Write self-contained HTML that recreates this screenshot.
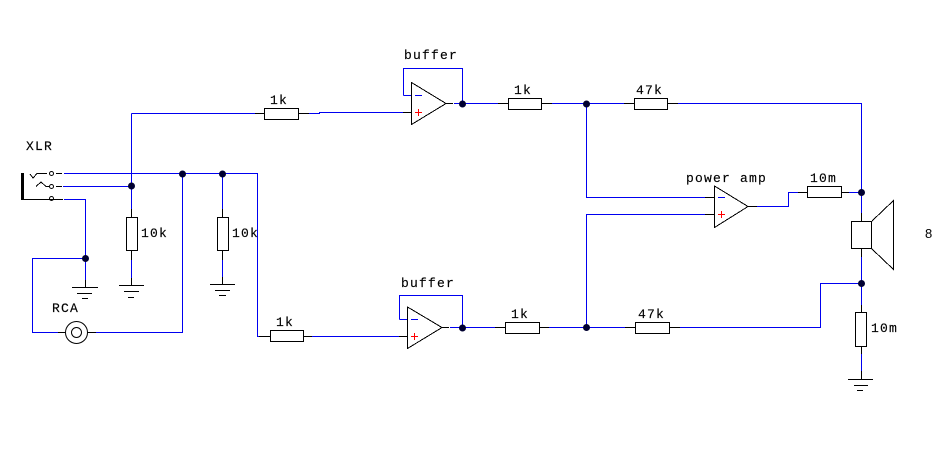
<!DOCTYPE html>
<html><head><meta charset="utf-8"><style>
html,body{margin:0;padding:0;background:#fff}
svg{display:block}
text{font-family:"Liberation Mono",monospace;font-size:13px;fill:#000;stroke:#000;stroke-width:.15px;letter-spacing:1.2px}
.b{fill:none;stroke:#0000f0;stroke-width:1;shape-rendering:crispEdges}
.k{fill:none;stroke:#000;stroke-width:1;shape-rendering:crispEdges}
.r{fill:#fff;stroke:#000;stroke-width:1;shape-rendering:crispEdges}
.s{fill:none;stroke:#000;stroke-width:1;shape-rendering:crispEdges}
.c{fill:none;stroke:#000;stroke-width:1}
.d{fill:#000030}
</style></head><body>
<svg width="951" height="454" viewBox="0 0 951 454" xmlns="http://www.w3.org/2000/svg">
<path class="b" d="M64 173.5H257.5V336.5H259M63 186.5H131.5M131.5 113.5V209M131.5 113.5H255M131.5 260V278M64 199.5H85.5V280M85.5 258.5H32.5V332.5H58M96 332.5H182.5V173.5M222.5 173.5V209M222.5 260V277"/>
<path class="b" d="M309 113.5H319.5V112.5H403M403.5 95.5V68.5H462.5V103.5M403.5 95.5H411M454 103.5H498M552 103.5H624M678 103.5H861.5V213M586.5 103.5V197.5H705M415 95.5H422"/>
<path class="b" d="M312 336.5H399M399.5 319.5V295.5H462.5V327.5M399.5 319.5H407M450 327.5H495M549 327.5H625M680 327.5H820.5V283.5H861.5M586.5 327.5V214.5H705M411 319.5H418"/>
<path class="b" d="M757 206.5H788.5V192.5H798M849 192.5H861.5M861.5 257V305M861.5 354V371M718 197.5H725"/>
<path class="k" d="M24 199.5H63M56 173.5H62M56 186.5H62M131.5 209V217M131.5 250V260M131.5 278V285M222.5 209V217M222.5 250V260M222.5 277V284M85.5 280V287M255 113.5H264M299 113.5H309M403 112.5H411M446 103.5H453M498 103.5H508M542 103.5H552M624 103.5H634M668 103.5H678"/>
<path class="k" d="M259 336.5H270M303 336.5H312M399 336.5H407M442 327.5H449M495 327.5H505M540 327.5H549M625 327.5H635M669 327.5H680M705 197.5H714M705 214.5H714M748 206.5H757M798 192.5H807M842 192.5H849M861.5 213V221M861.5 249V257M861.5 305V312M861.5 346V354M861.5 371V379M58 332.5H65M87 332.5H96"/>
<rect x="21" y="173" width="3" height="27" fill="#000"/>
<path class="s" d="M30 174L33 178L37 173.5H47M36 186.5L41 182L46 186.5H49"/>
<circle class="c" cx="51.5" cy="173.5" r="2" fill="#fff"/>
<circle class="c" cx="51.5" cy="186.5" r="2" fill="#fff"/>
<circle class="c" cx="51.5" cy="198.5" r="2" fill="#fff"/>
<circle class="c" cx="76.5" cy="332.5" r="11"/>
<circle class="c" cx="76.5" cy="332.5" r="5"/>
<path class="k" d="M72 287.5H98M77 293.5H92M82 298.5H88M119 285.5H144M124 291.5H139M128 297.5H134M210 284.5H235M215 290.5H230M219 295.5H226M848 379.5H873M854 385.5H868M857 390.5H863"/>
<rect class="r" x="126.5" y="217.5" width="11" height="33"/>
<rect class="r" x="217.5" y="217.5" width="11" height="33"/>
<rect class="r" x="264.5" y="108.5" width="34" height="11"/>
<rect class="r" x="508.5" y="98.5" width="33" height="11"/>
<rect class="r" x="634.5" y="98.5" width="33" height="11"/>
<rect class="r" x="270.5" y="330.5" width="33" height="11"/>
<rect class="r" x="505.5" y="322.5" width="34" height="11"/>
<rect class="r" x="635.5" y="322.5" width="34" height="11"/>
<rect class="r" x="807.5" y="186.5" width="34" height="11"/>
<rect class="r" x="855.5" y="312.5" width="11" height="34"/>
<rect class="r" x="851.5" y="221.5" width="20" height="27"/>
<path class="s" d="M872 221L893.5 200.5V269.5L872 249"/>
<path class="s" d="M411.5 82.5V124.5L446 103.5Z"/>
<path class="s" d="M407.5 307V348.5L442 327.5Z"/>
<path class="s" d="M714.5 186V227.5L748 206.5Z"/>
<path class="k" style="stroke:#f00" d="M415 112.5H422M418.5 109V116M411 336.5H418M414.5 333V340M718 214.5H725M721.5 211V218"/>
<g class="d">
<circle cx="131.5" cy="186" r="3.5"/><circle cx="182.5" cy="174" r="3.5"/><circle cx="222.5" cy="174" r="3.5"/><circle cx="85.5" cy="258.5" r="3.5"/>
<circle cx="462.5" cy="104" r="3.5"/><circle cx="586.5" cy="104" r="3.5"/><circle cx="462.5" cy="328" r="3.5"/><circle cx="586.5" cy="327.5" r="3.5"/>
<circle cx="861.5" cy="192.5" r="3.5"/><circle cx="861.5" cy="283.5" r="3.5"/>
</g>
<text x="26" y="150">XLR</text>
<text x="52" y="312">RCA</text>
<text x="141" y="237">10k</text>
<text x="232" y="237">10k</text>
<text x="270" y="104">1k</text>
<text x="404" y="59">buffer</text>
<text x="514" y="94">1k</text>
<text x="636" y="94">47k</text>
<text x="276" y="326">1k</text>
<text x="401" y="287">buffer</text>
<text x="511" y="318">1k</text>
<text x="638" y="318">47k</text>
<text x="686" y="182">power amp</text>
<text x="810" y="182">10m</text>
<text x="871" y="332">10m</text>
<text x="925" y="238" style="font-family:'Liberation Sans',sans-serif;font-size:13px;letter-spacing:0;stroke:none">8</text>
</svg>
</body></html>
